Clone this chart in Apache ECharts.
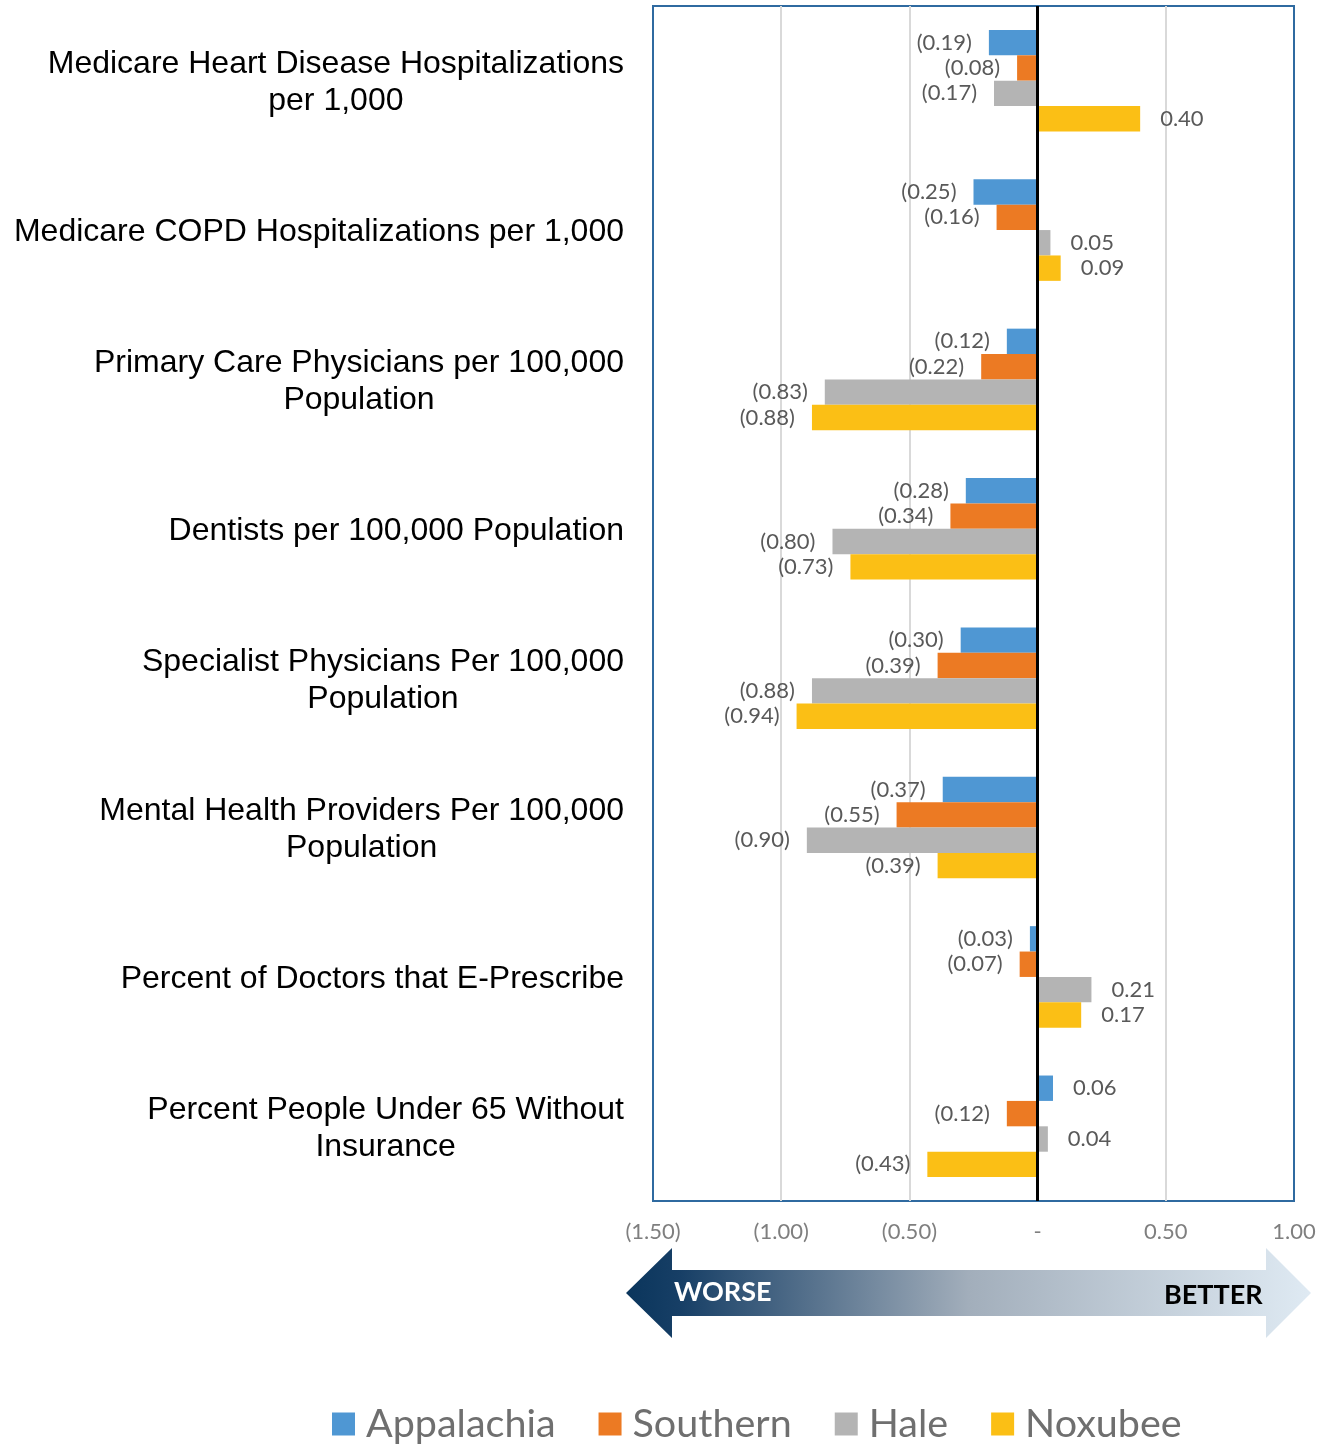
<!DOCTYPE html>
<html>
<head>
<meta charset="utf-8">
<script src="https://cdn.jsdelivr.net/npm/echarts@6/dist/echarts.min.js"></script>
<style>
  html, body { margin: 0; padding: 0; background: #fff; }
  #chart { width: 1332px; height: 1444px; }
</style>
</head>
<body>
<div id="chart"></div>
<script>
// Health-care indicators, standardized gap vs. benchmark (negative = worse)
const categories = [
  'Medicare Heart Disease Hospitalizations\nper 1,000',
  'Medicare COPD Hospitalizations per 1,000',
  'Primary Care Physicians per 100,000\nPopulation',
  'Dentists per 100,000 Population',
  'Specialist Physicians Per 100,000\nPopulation',
  'Mental Health Providers Per 100,000\nPopulation',
  'Percent of Doctors that E-Prescribe',
  'Percent People Under 65 Without\nInsurance'
];
const seriesNames = ['Appalachia', 'Southern', 'Hale', 'Noxubee'];
const appalachia = [-0.19, -0.25, -0.12, -0.28, -0.30, -0.37, -0.03, 0.06];
const southern   = [-0.08, -0.16, -0.22, -0.34, -0.39, -0.55, -0.07, -0.12];
const hale       = [-0.17, 0.05, -0.83, -0.80, -0.88, -0.90, 0.21, 0.04];
const noxubee    = [0.40, 0.09, -0.88, -0.73, -0.94, -0.39, 0.17, -0.43];
const xTicks = { min: -1.5, max: 1.0, interval: 0.5 };

const colors = ['#4f97d3', '#ec7a23', '#b4b4b4', '#fbbf15'];
const valueSets = [appalachia, southern, hale, noxubee];

function fmt(v) {
  if (Math.abs(v) < 1e-9) return '-';
  return v < 0 ? '(' + Math.abs(v).toFixed(2) + ')' : v.toFixed(2);
}

const chart = echarts.init(document.getElementById('chart'));

const series = seriesNames.map((name, i) => {
  const s = {
    name: name,
    type: 'bar',
    barGap: '0%',
    barCategoryGap: '32%',
    itemStyle: { color: colors[i] },
    label: {
      show: true,
      formatter: p => fmt(p.value),
      fontFamily: 'Lato',
      fontSize: 22,
      color: '#595959'
    },
    data: valueSets[i].map(v => ({
      value: v,
      label: { position: v < 0 ? 'left' : 'right', distance: v < 0 ? 17 : 20 }
    }))
  };
  if (i === seriesNames.length - 1) {
    s.markLine = {
      silent: true,
      symbol: 'none',
      label: { show: false },
      lineStyle: { color: '#000', width: 3, type: 'solid' },
      data: [{ xAxis: 0 }]
    };
  }
  return s;
});

chart.setOption({
  animation: false,
  backgroundColor: '#fff',
  grid: {
    left: 653, right: 38, top: 6, bottom: 243,
    show: true,
    borderColor: '#2f6aa0',
    borderWidth: 2,
    backgroundColor: 'transparent'
  },
  xAxis: {
    type: 'value',
    min: xTicks.min, max: xTicks.max, interval: xTicks.interval,
    axisLine: { show: false },
    axisTick: { show: false },
    splitLine: {
      show: true,
      showMinLine: false,
      showMaxLine: false,
      lineStyle: { color: '#d9d9d9', width: 2 }
    },
    axisLabel: {
      formatter: fmt,
      fontFamily: 'Lato',
      fontSize: 22,
      color: '#7f7f7f',
      margin: 20
    }
  },
  yAxis: {
    type: 'category',
    inverse: true,
    data: categories,
    axisLine: { show: false },
    axisTick: { show: false },
    axisLabel: {
      margin: 29,
      align: 'right',
      formatter: v => v.split('\n').map(l => '{c|' + l + '}').join('\n'),
      rich: {
        c: {
          align: 'center',
          fontFamily: 'Liberation Sans',
          fontSize: 32,
          lineHeight: 37,
          color: '#000',
          padding: [4, 0, 0, 0]
        }
      }
    }
  },
  legend: {
    data: seriesNames,
    left: 327,
    top: 1399,
    icon: 'rect',
    itemWidth: 23,
    itemHeight: 23,
    itemGap: 43,
    textStyle: { fontFamily: 'Lato', fontSize: 39.5, color: '#6f6f6f', padding: [0, 0, 0, 6] }
  },
  graphic: [
    {
      type: 'polygon',
      shape: {
        points: [
          [626, 1293], [672, 1248], [672, 1270], [1266, 1270], [1266, 1248],
          [1311, 1293], [1266, 1338], [1266, 1316], [672, 1316], [672, 1338]
        ]
      },
      style: {
        fill: new echarts.graphic.LinearGradient(0, 0, 1, 0, [
          { offset: 0, color: '#0a355c' },
          { offset: 0.08, color: '#173f66' },
          { offset: 0.5, color: '#a2aebb' },
          { offset: 1, color: '#dfeaf3' }
        ])
      }
    },
    {
      type: 'text',
      left: 674, top: 1279,
      style: { text: 'WORSE', fill: '#fff', font: 'bold 27px Lato' }
    },
    {
      type: 'text',
      left: 1164, top: 1282,
      style: { text: 'BETTER', fill: '#000', font: 'bold 27px Lato' }
    }
  ],
  series: series
});
</script>
</body>
</html>
